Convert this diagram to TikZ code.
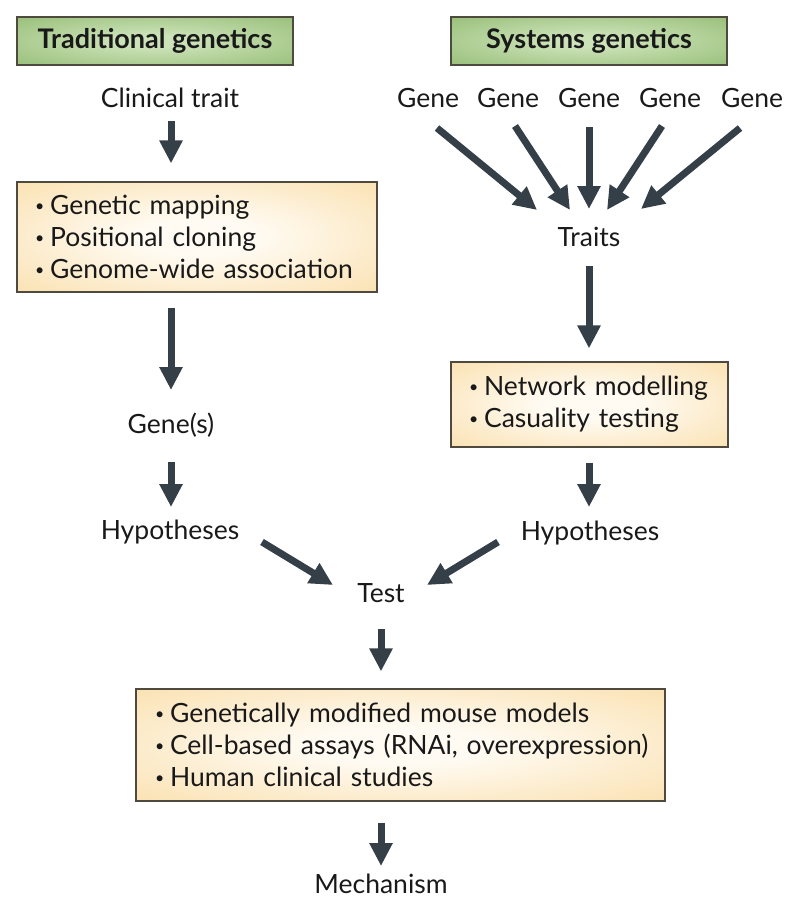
\documentclass[tikz,border=0pt]{standalone}
\usepackage{fontspec}
\usepackage{graphicx}
\setmainfont{Lato}
\usetikzlibrary{arrows.meta,calc}
\definecolor{arrowgrey}{HTML}{353F47}
\definecolor{boxline}{HTML}{4E4A40}
\definecolor{ycenter}{HTML}{FFFBF3}
\definecolor{yedge}{HTML}{F9D99C}
\definecolor{gcenter}{HTML}{CCE2B8}
\definecolor{gedge}{HTML}{88B566}
\pgfdeclareradialshading{yglow}{\pgfpoint{0bp}{0bp}}{color(0bp)=(ycenter); color(8bp)=(ycenter); color(45bp)=(yedge); color(60bp)=(yedge)}
\pgfdeclareradialshading{gglow}{\pgfpoint{0bp}{0bp}}{color(0bp)=(gcenter); color(6bp)=(gcenter); color(45bp)=(gedge); color(60bp)=(gedge)}
\tikzset{
  txt/.style={inner sep=0pt, font=\fontsize{26.5}{32}\selectfont, text=black!90},
  header/.style={draw=boxline, line width=1.2pt, shading=gglow, inner sep=0pt,
    font=\fontsize{27}{30}\selectfont\bfseries, text=black!90},
  ybox/.style={draw=boxline, line width=1.2pt, shading=yglow, inner ysep=0pt,
    align=left, font=\fontsize{26.5}{32}\selectfont, text=black!90}, 
  arr/.style={draw=arrowgrey, line width=7pt, -{Triangle[length=23pt,width=22pt]}, arrowgrey}
}
\newcommand{\bul}[1]{\mbox{\raisebox{0.12em}{\scalebox{0.6}{\textbullet}}\hspace{0.22em}#1}}
\begin{document}
\begin{tikzpicture}[x=1pt,y=-1pt]
\useasboundingbox (0,0) rectangle (800,910);
% headers
\node[header, minimum width=276pt, minimum height=48pt] (htrad) at (155,41) {Traditional genetics};
\node[header, minimum width=276pt, minimum height=48pt] (hsys) at (589,41) {Systems genetics};
% left column
\node[txt, anchor=base] (clin) at (170,107) {Clinical trait};
\node[ybox, minimum width=360pt, minimum height=110pt, text width=324pt, inner xsep=18pt] (lbox) at (197,237)
  {\bul{Genetic mapping}\\ \bul{Positional cloning}\\ \bul{Genome-wide association}};
\node[txt, anchor=base] (genes) at (171,433) {Gene(s)};
\node[txt, anchor=base] (hypl) at (170,539) {Hypotheses};
% right column
\node[txt, anchor=base] (g1) at (428,107) {Gene};
\node[txt, anchor=base] (g2) at (508,107) {Gene};
\node[txt, anchor=base] (g3) at (589,107) {Gene};
\node[txt, anchor=base] (g4) at (670,107) {Gene};
\node[txt, anchor=base] (g5) at (752,107) {Gene};
\node[txt, anchor=base] (traits) at (589,246) {Traits};
\node[ybox, minimum width=277pt, minimum height=85pt, text width=241pt, inner xsep=18pt] (rbox) at (589.5,404.5)
  {\bul{Network modelling}\\ \bul{Casuality testing}};
\node[txt, anchor=base] (hypr) at (590,540) {Hypotheses};
% bottom
\node[txt, anchor=base] (test) at (381,602) {Test};
\node[ybox, minimum width=529pt, minimum height=112pt, text width=491pt, inner xsep=19pt] (bbox) at (400.5,745)
  {\bul{Genetically modified mouse models}\\ \bul{Cell-based assays (RNAi, overexpression)}\\ \bul{Human clinical studies}};
\node[txt, anchor=base] (mech) at (381,893) {Mechanism};
% arrows left
\draw[arr] ($(clin.base)+(1,14)$) -- ($(lbox.north)+(-26,-18)$);
\draw[arr] ($(lbox.south)+(-26,15)$) -- ($(genes.base)+(0,-43)$);
\draw[arr] ($(genes.base)+(0,29)$) -- ($(hypl.base)+(1,-32)$);
\draw[arr] ($(hypl.base)+(92,3)$) -- ($(test.base)+(-48,-17)$);
\draw[arr] ($(hypr.base)+(-92,2)$) -- ($(test.base)+(46,-17)$);
\draw[arr] ($(test.base)+(0,27)$) -- ($(bbox.north)+(-19.5,-17)$);
\draw[arr] ($(bbox.south)+(-19.5,21)$) -- ($(mech.base)+(0,-27)$);
% arrows right
\draw[arr] ($(g1.base)+(9,21)$) -- ($(traits.base)+(-52,-36)$);
\draw[arr] ($(g2.base)+(7,19)$) -- ($(traits.base)+(-19,-36)$);
\draw[arr] ($(g3.base)+(0,20)$) -- ($(traits.base)+(0,-37)$);
\draw[arr] ($(g4.base)+(-8,19)$) -- ($(traits.base)+(18,-36)$);
\draw[arr] ($(g5.base)+(-12,21)$) -- ($(traits.base)+(52,-37)$);
\draw[arr] ($(traits.base)+(0,20)$) -- ($(rbox.north)+(-0.5,-13)$);
\draw[arr] ($(rbox.south)+(-0.5,15)$) -- ($(hypr.base)+(-1,-33)$);
\end{tikzpicture}
\end{document}
